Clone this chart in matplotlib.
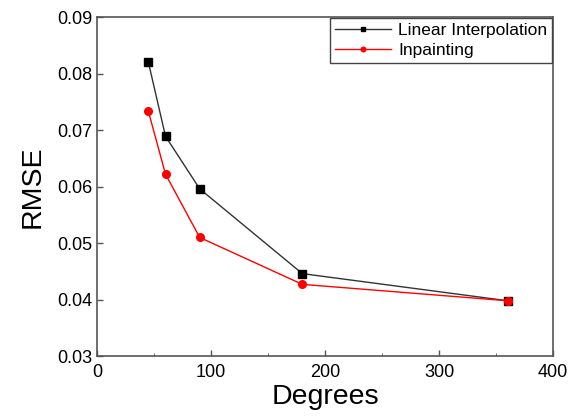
import matplotlib
matplotlib.use("Agg")
import matplotlib.pyplot as plt
from matplotlib.ticker import MultipleLocator

plt.rcParams["font.family"] = ["Liberation Sans", "DejaVu Sans"]

degrees = [45, 60, 90, 180, 360]
linear_rmse = [0.0820, 0.0689, 0.0596, 0.0446, 0.0398]
inpaint_rmse = [0.0733, 0.0622, 0.0510, 0.0427, 0.0398]

fig = plt.figure(figsize=(5.78, 4.17), dpi=100)
ax = fig.add_axes([0.168, 0.146, 0.789, 0.813])

ax.plot(degrees, linear_rmse, color="#333333", lw=1, marker="s", ms=5.5,
        mfc="black", mec="black", label="Linear Interpolation")
ax.plot(degrees, inpaint_rmse, color="red", lw=1, marker="o", ms=5.5,
        mfc="red", mec="red", label="Inpainting")

ax.set_xlim(0, 400)
ax.set_ylim(0.03, 0.09)
ax.xaxis.set_major_locator(MultipleLocator(100))
ax.xaxis.set_minor_locator(MultipleLocator(50))
ax.yaxis.set_major_locator(MultipleLocator(0.01))
ax.tick_params(direction="in", length=4, width=1, labelsize=13, color="#555555")
ax.tick_params(which="minor", direction="in", length=2.5, color="#555555")
ax.tick_params(axis="x", pad=6)
for s in ax.spines.values():
    s.set_color("#555555")
    s.set_linewidth(1.2)

ax.set_xlabel("Degrees", fontsize=20.5, labelpad=2)
ax.set_ylabel("RMSE", fontsize=20.5, labelpad=8)

leg = ax.legend(loc="upper right", fontsize=12.5, fancybox=False, framealpha=1,
                edgecolor="#444444", borderaxespad=0.05, handlelength=3.2,
                borderpad=0.3, labelspacing=0.25, markerscale=0.6,
                handletextpad=0.4)
leg.get_frame().set_linewidth(1)

fig.savefig("out.png", dpi=100)
